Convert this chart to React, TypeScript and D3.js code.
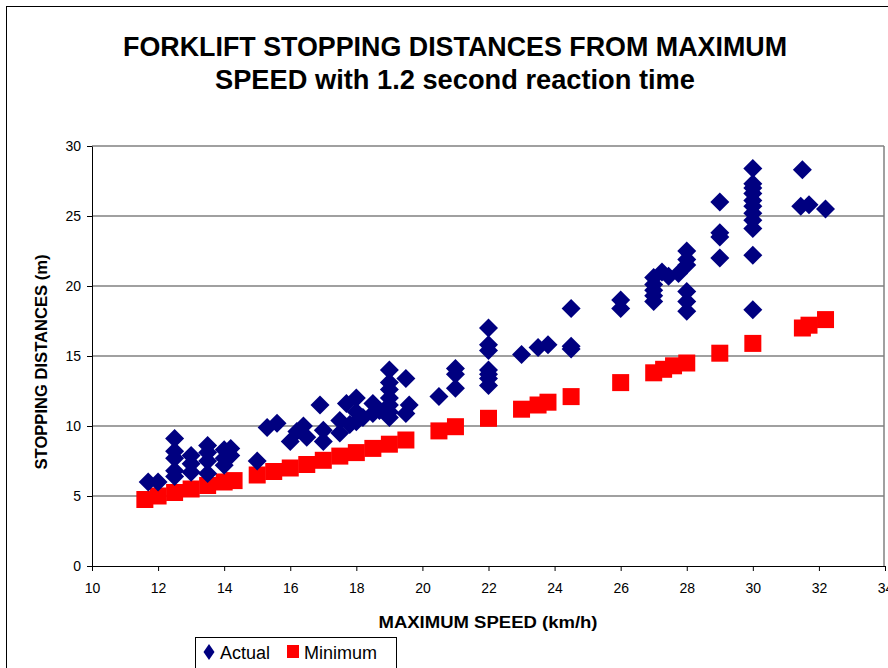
import { useEffect, useRef } from "react";
import * as d3 from "d3";

// Actual measured stopping distances (speed km/h, distance m)
const actualSpeed = [
  11.7, 12.0, 12.5, 12.5, 12.5, 12.5, 12.5, 13.0, 13.0, 13.0, 13.5, 13.5, 13.5, 13.5,
  14.0, 14.0, 14.0, 14.2, 14.2,
  15.0, 15.3, 15.6, 16.0, 16.2, 16.4, 16.5, 16.9, 17.0, 17.0, 17.5, 17.5, 17.7, 17.8,
  18.0, 18.0, 18.0, 18.2, 18.5, 18.5, 18.7,
  19.0, 19.0, 19.0, 19.0, 19.0, 19.0, 19.0, 19.5, 19.5, 19.6,
  20.5, 21.0, 21.0, 21.0, 22.0, 22.0, 22.0, 22.0, 22.0, 22.0, 22.0,
  23.0, 23.5, 23.8, 24.5, 24.5, 24.5,
  26.0, 26.0, 27.0, 27.0, 27.0, 27.0, 27.0, 27.25, 27.45, 27.75,
  28.0, 28.0, 28.0, 28.0, 28.0, 28.0,
  29.0, 29.0, 29.0, 29.0,
  30.0, 30.0, 30.0, 30.0, 30.0, 30.0, 30.0, 30.0, 30.0, 30.0, 30.0,
  31.5, 31.45, 31.7, 32.2,
];
const actualDistance = [
  6.0, 6.0, 9.1, 8.2, 7.7, 6.8, 6.4, 7.9, 7.3, 6.7, 8.6, 8.1, 7.5, 6.6,
  8.3, 7.7, 7.2, 8.4, 7.9,
  7.5, 9.9, 10.2, 8.9, 9.6, 10.0, 9.2, 11.5, 9.7, 8.9, 10.4, 9.5, 11.6, 10.1,
  12.0, 11.0, 10.3, 10.6, 11.6, 10.9, 11.1,
  14.0, 13.1, 12.6, 12.0, 11.5, 11.0, 10.6, 13.4, 10.9, 11.5,
  12.1, 14.1, 13.7, 12.7, 17.0, 15.8, 15.4, 14.0, 13.7, 13.4, 12.9,
  15.1, 15.6, 15.8, 18.4, 15.7, 15.5,
  19.0, 18.4, 20.6, 20.1, 19.7, 19.3, 18.9, 21.0, 20.7, 20.9,
  22.5, 21.9, 21.5, 19.6, 18.9, 18.2,
  26.0, 23.8, 23.5, 22.0,
  28.4, 27.3, 27.0, 26.6, 26.1, 25.7, 25.2, 24.7, 24.1, 22.2, 18.3,
  28.3, 25.7, 25.8, 25.5,
];

// Minimum theoretical stopping distances
const minSpeed = [
  11.6, 12.0, 12.5, 13.0, 13.5, 14.0, 14.3, 15.0, 15.5, 16.0, 16.5, 17.0, 17.5, 18.0,
  18.5, 19.0, 19.5, 20.5, 21.0, 22.0, 23.0, 23.5, 23.8, 24.5, 26.0, 27.0, 27.3, 27.6,
  28.0, 29.0, 30.0, 31.5, 31.7, 32.2,
];
const minDistance = [
  4.75, 5.0, 5.25, 5.5, 5.75, 6.0, 6.1, 6.5, 6.75, 7.0, 7.25, 7.55, 7.85, 8.1,
  8.4, 8.7, 9.0, 9.65, 9.95, 10.55, 11.2, 11.5, 11.7, 12.1, 13.1, 13.8, 14.05, 14.3,
  14.5, 15.2, 15.9, 17.0, 17.2, 17.6,
];

const xTicks = [10, 12, 14, 16, 18, 20, 22, 24, 26, 28, 30, 32, 34];
const yTicks = [0, 5, 10, 15, 20, 25, 30];

const FONT = "'Liberation Sans', Arial, sans-serif";

export default function App() {
  const ref = useRef<SVGSVGElement>(null);

  useEffect(() => {
    const svg = d3.select(ref.current);
    svg.selectAll("*").remove();

    const margin = { left: 92, top: 146, right: 884, bottom: 566 };
    const x = d3.scaleLinear().domain([10, 34]).range([margin.left, 885]);
    const y = d3.scaleLinear().domain([0, 30]).range([margin.bottom, margin.top]);

    // white background and chart frame
    svg.append("rect").attr("width", 888).attr("height", 668).attr("fill", "#fff");
    svg
      .append("rect")
      .attr("x", 6.5)
      .attr("y", 6.5)
      .attr("width", 900)
      .attr("height", 700)
      .attr("fill", "none")
      .attr("stroke", "#000")
      .attr("stroke-width", 1);

    // title (condensed like the original)
    const titleLine = (txt: string, yy: number, len: number) =>
      svg
        .append("text")
        .attr("x", 455)
        .attr("y", yy)
        .attr("text-anchor", "middle")
        .attr("textLength", len)
        .attr("lengthAdjust", "spacingAndGlyphs")
        .style("font-family", FONT)
        .style("font-weight", "bold")
        .style("font-size", "27px")
        .text(txt);
    titleLine("FORKLIFT STOPPING DISTANCES FROM MAXIMUM", 56, 664);
    titleLine("SPEED with 1.2 second reaction time", 89, 480);

    // grid lines
    svg
      .append("g")
      .selectAll("line")
      .data(yTicks.filter((d) => d > 0))
      .enter()
      .append("line")
      .attr("x1", margin.left)
      .attr("x2", margin.right)
      .attr("y1", (d) => y(d))
      .attr("y2", (d) => y(d))
      .attr("stroke", "#808080")
      .attr("stroke-width", 1.5);

    // right border of plot area
    svg
      .append("line")
      .attr("x1", margin.right)
      .attr("x2", margin.right)
      .attr("y1", margin.top)
      .attr("y2", margin.bottom)
      .attr("stroke", "#808080")
      .attr("stroke-width", 1.5);

    // y axis
    const yAxis = svg
      .append("g")
      .attr("transform", `translate(${margin.left},0)`)
      .call(d3.axisLeft(y).tickValues(yTicks).tickSize(5).tickPadding(6).tickSizeOuter(0));
    yAxis.select(".domain").attr("stroke", "#000");
    yAxis.selectAll("text").style("font-family", FONT).style("font-size", "14px").attr("fill", "#000");

    // x axis
    const xAxis = svg
      .append("g")
      .attr("transform", `translate(0,${margin.bottom})`)
      .call(d3.axisBottom(x).tickValues(xTicks).tickSize(5).tickPadding(12).tickSizeOuter(0));
    xAxis.select(".domain").attr("stroke", "#000");
    xAxis.selectAll("text").style("font-family", FONT).style("font-size", "14px").attr("fill", "#000");

    // axis titles
    svg
      .append("text")
      .attr("x", 488)
      .attr("y", 628)
      .attr("text-anchor", "middle")
      .attr("textLength", 219)
      .attr("lengthAdjust", "spacingAndGlyphs")
      .style("font-family", FONT)
      .style("font-weight", "bold")
      .style("font-size", "16px")
      .text("MAXIMUM SPEED (km/h)");
    svg
      .append("text")
      .attr("transform", "translate(47,362) rotate(-90)")
      .attr("text-anchor", "middle")
      .attr("textLength", 215)
      .attr("lengthAdjust", "spacingAndGlyphs")
      .style("font-family", FONT)
      .style("font-weight", "bold")
      .style("font-size", "16px")
      .text("STOPPING DISTANCES (m)");

    // Minimum series - red squares
    const sq = 17;
    svg
      .append("g")
      .selectAll("rect")
      .data(minSpeed.map((s, i) => [s, minDistance[i]]))
      .enter()
      .append("rect")
      .attr("x", (d) => x(d[0]) - sq / 2)
      .attr("y", (d) => y(d[1]) - sq / 2)
      .attr("width", sq)
      .attr("height", sq)
      .attr("fill", "#ff0000");

    // Actual series - navy diamonds
    const r = 9.5;
    const diamond = `M0,${-r}L${r},0L0,${r}L${-r},0Z`;
    svg
      .append("g")
      .selectAll("path")
      .data(actualSpeed.map((s, i) => [s, actualDistance[i]]))
      .enter()
      .append("path")
      .attr("d", diamond)
      .attr("transform", (d) => `translate(${x(d[0])},${y(d[1])})`)
      .attr("fill", "#000080");

    // legend
    const legend = svg.append("g");
    legend
      .append("rect")
      .attr("x", 195.5)
      .attr("y", 637.5)
      .attr("width", 201)
      .attr("height", 40)
      .attr("fill", "#fff")
      .attr("stroke", "#000");
    legend
      .append("path")
      .attr("d", "M0,-8L5.5,0L0,8L-5.5,0Z")
      .attr("transform", "translate(209,652)")
      .attr("fill", "#000080");
    legend
      .append("text")
      .attr("x", 220)
      .attr("y", 659)
      .style("font-family", FONT)
      .style("font-size", "18px")
      .text("Actual");
    legend
      .append("rect")
      .attr("x", 287)
      .attr("y", 645)
      .attr("width", 12)
      .attr("height", 13)
      .attr("fill", "#ff0000");
    legend
      .append("text")
      .attr("x", 304)
      .attr("y", 659)
      .style("font-family", FONT)
      .style("font-size", "18px")
      .text("Minimum");
  }, []);

  return (
    <svg
      ref={ref}
      width={888}
      height={668}
      style={{ position: "absolute", left: 0, top: 0, display: "block" }}
    />
  );
}
